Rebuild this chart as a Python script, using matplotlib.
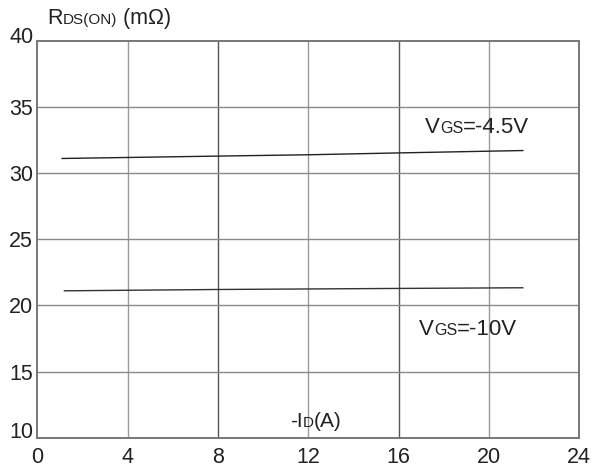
import matplotlib
matplotlib.use("Agg")
import matplotlib.pyplot as plt
from matplotlib.transforms import IdentityTransform, ScaledTranslation

plt.rcParams['font.family'] = ['Liberation Sans', 'DejaVu Sans']

# Drain current (A) and on-resistance (mOhm) for two gate voltages
id_45 = [1.1, 8.0, 12.0, 16.0, 21.5]
rds_45 = [31.1, 31.28, 31.38, 31.52, 31.7]
id_10 = [1.2, 8.0, 12.0, 16.0, 21.5]
rds_10 = [21.1, 21.2, 21.24, 21.28, 21.33]

x_ticks = [0, 4, 8, 12, 16, 20, 24]
y_ticks = [10, 15, 20, 25, 30, 35, 40]

W, H, DPI = 593, 470, 100
fig = plt.figure(figsize=(W / DPI, H / DPI), dpi=DPI)
ax = fig.add_axes([37.3 / W, 1 - 437.7 / H, (579.3 - 37.3) / W, (437.7 - 40.7) / H])

ax.set_xlim(0, 24)
ax.set_ylim(10, 40)
ax.set_xticks(x_ticks)
ax.set_yticks(y_ticks)
ax.set_xticklabels([str(v) for v in x_ticks])
ax.set_yticklabels([str(v) for v in y_ticks])
ax.tick_params(axis='both', length=0, labelsize=15.5, colors='#222222')
ax.tick_params(axis='x', pad=6.5)
ax.tick_params(axis='y', pad=3)

# nudge the end labels inside the frame
for lab, v in zip(ax.get_yticklabels(), y_ticks):
    if v == 40:
        lab.set_transform(lab.get_transform() + ScaledTranslation(0, 5.5 / DPI, fig.dpi_scale_trans))
    elif v == 10:
        lab.set_transform(lab.get_transform() + ScaledTranslation(0, 8 / DPI, fig.dpi_scale_trans))

for s in ax.spines.values():
    s.set_color('#777777')
    s.set_linewidth(1.4)

for v in x_ticks[1:-1]:
    c = '#555555' if v in (8, 16) else '#9a9a9a'
    ax.axvline(v, color=c, lw=1.0, zorder=1)
for v in y_ticks[1:-1]:
    ax.axhline(v, color='#8a8a8a', lw=1.0, zorder=1)

ax.plot(id_45, rds_45, color='#222222', lw=1.0, zorder=3)
ax.plot(id_10, rds_10, color='#333333', lw=1.0, zorder=3)

fig.canvas.draw()
renderer = fig.canvas.get_renderer()


def mixed_text(x_px, base_px, parts):
    """Draw a run of text pieces of different sizes on a common baseline (pixel coords from top-left)."""
    x = x_px
    y = H - base_px
    for s, size in parts:
        t = fig.text(x, y, s, fontsize=size, va='baseline', ha='left',
                     transform=IdentityTransform(), color='#222222')
        bb = t.get_window_extent(renderer)
        x = bb.x1


mixed_text(47, 24, [("R", 15.5), ("DS(ON)", 11), (" (m\u03a9)", 15.5)])
mixed_text(425, 133, [("V", 16), ("GS", 11.5), ("=-4.5V", 16)])
mixed_text(419, 335, [("V", 16), ("GS", 11.5), ("=-10V", 16)])
mixed_text(290, 427, [("-I", 15), ("D", 11), ("(A)", 15)])

fig.savefig("out.png", dpi=DPI)
